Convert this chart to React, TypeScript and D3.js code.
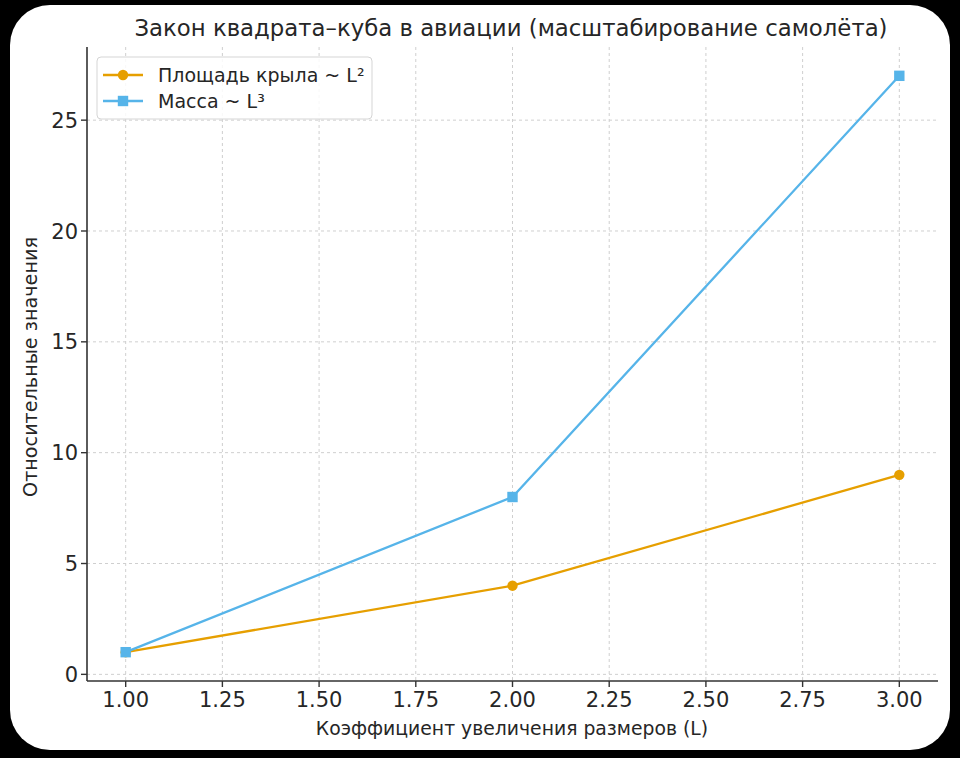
import React from "react";
import * as d3 from "d3";

const xValues = [1, 2, 3];
const areaValues = [1, 4, 9];
const massValues = [1, 8, 27];
const xTicks = [1.0, 1.25, 1.5, 1.75, 2.0, 2.25, 2.5, 2.75, 3.0];
const yTicks = [0, 5, 10, 15, 20, 25];
const seriesNames = ["Площадь крыла ~ L²", "Масса ~ L³"];

const W = 960;
const H = 758;
const left = 87, right = 938, top = 47, bottom = 681;
const FONT = "DejaVu Sans, sans-serif";
const TXT = "#262626";

export default function App() {
  const x = d3.scaleLinear().domain([0.9, 3.1]).range([left, right]);
  const y = d3.scaleLinear().domain([-0.3, 28.3]).range([bottom, top]);
  const line = d3.line<[number, number]>().x(d => x(d[0])).y(d => y(d[1]));
  const areaPts = xValues.map((v, i) => [v, areaValues[i]] as [number, number]);
  const massPts = xValues.map((v, i) => [v, massValues[i]] as [number, number]);
  const orange = "#E69F00";
  const blue = "#56B4E9";
  return (
    <svg width={W} height={H} style={{ position: "absolute", left: 0, top: 0 }}>
      <rect x={0} y={0} width={W} height={H} fill="#000" />
      <rect x={10} y={5} width={940} height={745} rx={40} ry={40} fill="#fff" />
      {/* grid */}
      {xTicks.map(t => (
        <line key={"gx" + t} x1={x(t)} x2={x(t)} y1={top} y2={bottom} stroke="#cfcfcf" strokeWidth={1} strokeDasharray="3,3" />
      ))}
      {yTicks.map(t => (
        <line key={"gy" + t} x1={left} x2={right} y1={y(t)} y2={y(t)} stroke="#cfcfcf" strokeWidth={1} strokeDasharray="3,3" />
      ))}
      {/* spines */}
      <line x1={left} x2={left} y1={top} y2={bottom} stroke="#333" strokeWidth={1.6} />
      <line x1={left} x2={right} y1={bottom} y2={bottom} stroke="#333" strokeWidth={1.6} />
      {xTicks.map(t => (
        <g key={"tx" + t}>
          <line x1={x(t)} x2={x(t)} y1={bottom} y2={bottom + 6} stroke="#333" strokeWidth={1.4} />
          <text x={x(t)} y={bottom + 26} textAnchor="middle" fontFamily={FONT} fontSize={21} fill={TXT}>{t.toFixed(2)}</text>
        </g>
      ))}
      {yTicks.map(t => (
        <g key={"ty" + t}>
          <line x1={left - 6} x2={left} y1={y(t)} y2={y(t)} stroke="#333" strokeWidth={1.4} />
          <text x={left - 9} y={y(t)} dy="0.36em" textAnchor="end" fontFamily={FONT} fontSize={21} fill={TXT}>{t}</text>
        </g>
      ))}
      {/* series */}
      <path d={line(areaPts) || ""} fill="none" stroke={orange} strokeWidth={2.3} />
      {areaPts.map((p, i) => (
        <circle key={"a" + i} cx={x(p[0])} cy={y(p[1])} r={5.2} fill={orange} />
      ))}
      <path d={line(massPts) || ""} fill="none" stroke={blue} strokeWidth={2.3} />
      {massPts.map((p, i) => (
        <rect key={"m" + i} x={x(p[0]) - 5.2} y={y(p[1]) - 5.2} width={10.4} height={10.4} fill={blue} />
      ))}
      {/* title */}
      <text x={511} y={36} textAnchor="middle" fontFamily={FONT} fontSize={22.8} fill={TXT}>
        Закон квадрата–куба в авиации (масштабирование самолёта)
      </text>
      <text x={512} y={735} textAnchor="middle" fontFamily={FONT} fontSize={18.8} fill={TXT}>
        Коэффициент увеличения размеров (L)
      </text>
      <text transform={`translate(37,367) rotate(-90)`} textAnchor="middle" fontFamily={FONT} fontSize={19.2} fill={TXT}>
        Относительные значения
      </text>
      {/* legend */}
      <rect x={97} y={57} width={275} height={62} rx={4} fill="#fff" fillOpacity={0.85} stroke="#d5d5d5" strokeWidth={1} />
      <line x1={103} x2={143} y1={75} y2={75} stroke={orange} strokeWidth={2.3} />
      <circle cx={123} cy={75} r={5.2} fill={orange} />
      <text x={158} y={75} dy="0.36em" fontFamily={FONT} fontSize={19} fill={TXT}>{seriesNames[0]}</text>
      <line x1={103} x2={143} y1={101} y2={101} stroke={blue} strokeWidth={2.3} />
      <rect x={117.8} y={95.8} width={10.4} height={10.4} fill={blue} />
      <text x={158} y={101} dy="0.36em" fontFamily={FONT} fontSize={19} fill={TXT}>{seriesNames[1]}</text>
    </svg>
  );
}
